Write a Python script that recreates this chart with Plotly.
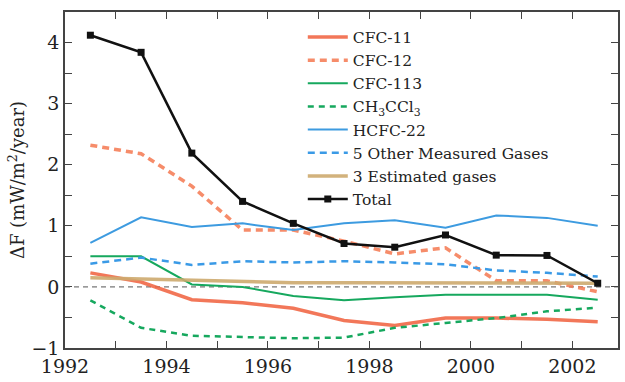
import plotly.graph_objects as go

years = [1992.5, 1993.5, 1994.5, 1995.5, 1996.5, 1997.5, 1998.5, 1999.5, 2000.5, 2001.5, 2002.5]

cfc11 = [0.23, 0.08, -0.21, -0.26, -0.35, -0.55, -0.63, -0.51, -0.51, -0.53, -0.57]
cfc12 = [2.32, 2.18, 1.65, 0.93, 0.93, 0.75, 0.54, 0.64, 0.10, 0.10, -0.08]
cfc113 = [0.50, 0.50, 0.04, 0.00, -0.15, -0.22, -0.17, -0.13, -0.13, -0.13, -0.21]
ch3ccl3 = [-0.22, -0.67, -0.80, -0.82, -0.84, -0.83, -0.67, -0.59, -0.51, -0.40, -0.34]
hcfc22 = [0.72, 1.14, 0.98, 1.04, 0.93, 1.04, 1.09, 0.97, 1.17, 1.13, 1.00]
other5 = [0.38, 0.48, 0.36, 0.42, 0.40, 0.42, 0.40, 0.37, 0.27, 0.23, 0.17]
est3 = [0.15, 0.13, 0.10, 0.08, 0.07, 0.07, 0.07, 0.07, 0.07, 0.07, 0.06]
total = [4.12, 3.84, 2.19, 1.40, 1.04, 0.71, 0.65, 0.85, 0.52, 0.515, 0.06]

series = [
    ("CFC-11", cfc11, "rgba(240,95,60,0.85)", 3.5, "solid"),
    ("CFC-12", cfc12, "rgba(244,120,80,0.85)", 3.5, "7px,5px"),
    ("CFC-113", cfc113, "#16a85e", 2, "solid"),
    ("CH<sub>3</sub>CCl<sub>3</sub>", ch3ccl3, "#16a85e", 2.5, "6px,5px"),
    ("HCFC-22", hcfc22, "#3d9be0", 2, "solid"),
    ("5 Other Measured Gases", other5, "#3a9ae6", 2.5, "7px,5px"),
    ("3 Estimated gases", est3, "rgba(205,170,110,0.9)", 3.5, "solid"),
]

font_family = "DejaVu Serif"

fig = go.Figure()
for name, vals, color, w, dash in series:
    fig.add_trace(go.Scatter(x=years, y=vals, name=name, mode="lines",
                             line=dict(color=color, width=w, dash=dash)))
fig.add_trace(go.Scatter(x=years, y=total, name="Total", mode="lines+markers",
                         line=dict(color="#111111", width=2.5),
                         marker=dict(symbol="square", size=7, color="#111111")))

fig.add_shape(type="line", xref="paper", x0=0, x1=1, yref="y", y0=0, y1=0,
              line=dict(color="#555555", width=1, dash="5px,4px"), layer="below")

axis_common = dict(showline=True, linecolor="#444444", linewidth=1.5, mirror="ticks",
                   ticks="inside", ticklen=7, tickcolor="#444444", showgrid=False,
                   zeroline=False, tickfont=dict(family=font_family, size=19, color="#222222"))

fig.update_xaxes(range=[1992, 2002.9], tickmode="linear", tick0=1992, dtick=2,
                 minor=dict(dtick=1, ticks="inside", ticklen=7, tickcolor="#444444"),
                 **axis_common)
fig.update_yaxes(range=[-1, 4.5], tickmode="linear", tick0=-1, dtick=1,
                 minor=dict(dtick=0.5, ticks="inside", ticklen=7, tickcolor="#444444"),
                 title=dict(text="ΔF (mW/m<sup>2</sup>/year)", font=dict(family=font_family, size=18, color="#222222"),
                            standoff=2),
                 **axis_common)

fig.update_layout(
    width=625, height=382,
    margin=dict(l=65, r=5, t=12, b=25),
    paper_bgcolor="white", plot_bgcolor="white",
    font=dict(family=font_family),
    showlegend=True,
    legend=dict(x=0.43, y=0.975, xanchor="left", yanchor="top",
                font=dict(family=font_family, size=15.5, color="#222222"),
                bgcolor="rgba(0,0,0,0)", itemwidth=40, tracegroupgap=0),
)

fig.write_html("out.html")
